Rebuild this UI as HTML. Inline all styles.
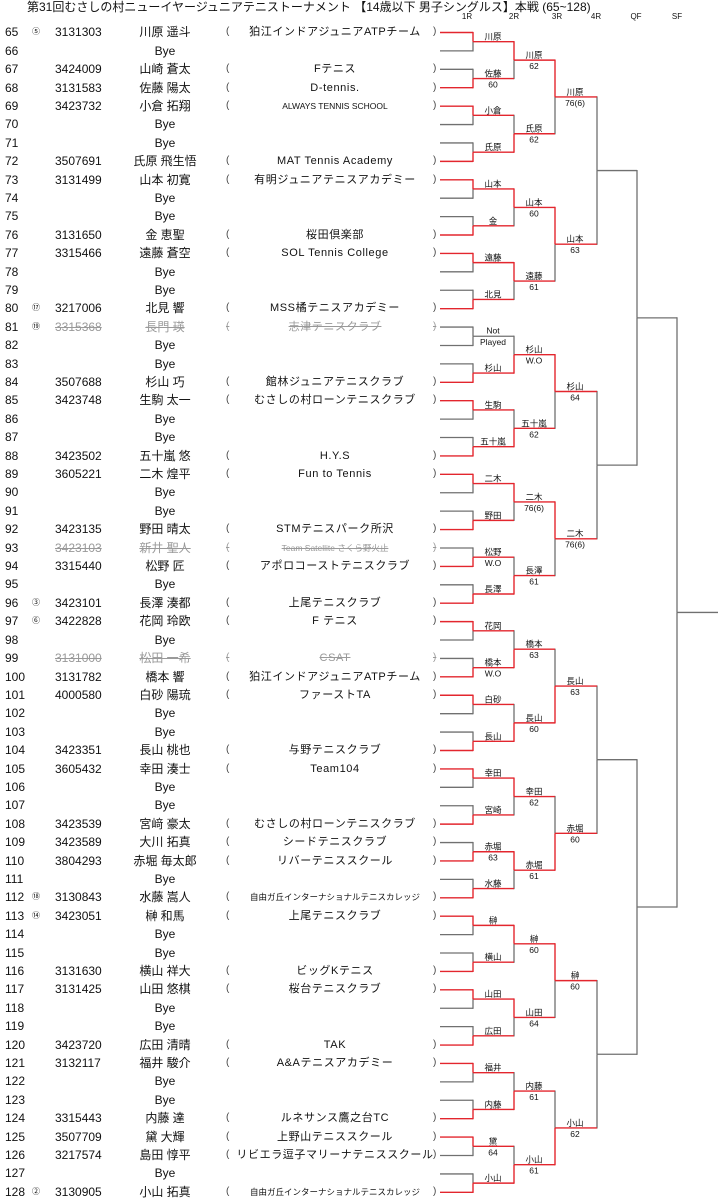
<!DOCTYPE html>
<html><head><meta charset="utf-8"><style>
body{margin:0;width:718px;height:1200px;position:relative;background:#fff;font-family:"Liberation Sans","Noto Sans CJK JP",sans-serif;color:#111;overflow:hidden}
.t{position:absolute;left:27px;top:0;font-size:12px;line-height:15px;white-space:nowrap}
.h{position:absolute;top:12px;font-size:8px;width:30px;text-align:center;margin-left:-15px}
#rows{position:absolute;left:0;top:23.3px;width:440px}
.r{position:relative;height:18.41px;line-height:18.41px;font-size:12px;white-space:nowrap}
.r span{position:absolute;top:0}
.n{left:5px}
.s{left:32px;font-size:8px}
.i{left:55px}
.m{left:115px;width:100px;text-align:center}
.a{left:226px;font-size:10px;color:#444}
.c{left:236px;width:198px;text-align:center;font-size:11px;letter-spacing:0.6px}
.b{left:433px;font-size:10px;color:#444}
.x span{color:#999;text-decoration:line-through}
.x .n{color:#111;text-decoration:none}
.sm{font-size:8.5px!important;letter-spacing:0!important}
svg{position:absolute;left:0;top:0}
svg text{font-family:"Liberation Sans","Noto Sans CJK JP",sans-serif;font-size:8.5px;text-anchor:middle;fill:#111}
</style></head><body>
<div class="t">第31回むさしの村ニューイヤージュニアテニストーナメント 【14歳以下 男子シングルス】本戦 (65~128)</div>
<div class="h" style="left:467px">1R</div><div class="h" style="left:514px">2R</div><div class="h" style="left:557px">3R</div><div class="h" style="left:596px">4R</div><div class="h" style="left:636px">QF</div><div class="h" style="left:677px">SF</div>
<div id="rows">
<div class="r"><span class="n">65</span><span class="s">⑤</span><span class="i">3131303</span><span class="m">川原 遥斗</span><span class="a">(</span><span class="c">狛江インドアジュニアATPチーム</span><span class="b">)</span></div>
<div class="r"><span class="n">66</span><span class="m">Bye</span></div>
<div class="r"><span class="n">67</span><span class="i">3424009</span><span class="m">山崎 蒼太</span><span class="a">(</span><span class="c">Fテニス</span><span class="b">)</span></div>
<div class="r"><span class="n">68</span><span class="i">3131583</span><span class="m">佐藤 陽太</span><span class="a">(</span><span class="c">D-tennis.</span><span class="b">)</span></div>
<div class="r"><span class="n">69</span><span class="i">3423732</span><span class="m">小倉 拓翔</span><span class="a">(</span><span class="c sm">ALWAYS TENNIS SCHOOL</span><span class="b">)</span></div>
<div class="r"><span class="n">70</span><span class="m">Bye</span></div>
<div class="r"><span class="n">71</span><span class="m">Bye</span></div>
<div class="r"><span class="n">72</span><span class="i">3507691</span><span class="m">氏原 飛生悟</span><span class="a">(</span><span class="c">MAT Tennis Academy</span><span class="b">)</span></div>
<div class="r"><span class="n">73</span><span class="i">3131499</span><span class="m">山本 初寛</span><span class="a">(</span><span class="c">有明ジュニアテニスアカデミー</span><span class="b">)</span></div>
<div class="r"><span class="n">74</span><span class="m">Bye</span></div>
<div class="r"><span class="n">75</span><span class="m">Bye</span></div>
<div class="r"><span class="n">76</span><span class="i">3131650</span><span class="m">金 恵聖</span><span class="a">(</span><span class="c">桜田倶楽部</span><span class="b">)</span></div>
<div class="r"><span class="n">77</span><span class="i">3315466</span><span class="m">遠藤 蒼空</span><span class="a">(</span><span class="c">SOL Tennis College</span><span class="b">)</span></div>
<div class="r"><span class="n">78</span><span class="m">Bye</span></div>
<div class="r"><span class="n">79</span><span class="m">Bye</span></div>
<div class="r"><span class="n">80</span><span class="s">⑰</span><span class="i">3217006</span><span class="m">北見 響</span><span class="a">(</span><span class="c">MSS橘テニスアカデミー</span><span class="b">)</span></div>
<div class="r x"><span class="n">81</span><span class="s" style="text-decoration:none;color:#111">⑲</span><span class="i">3315368</span><span class="m">長門 瑛</span><span class="a">(</span><span class="c">志津テニスクラブ</span><span class="b">)</span></div>
<div class="r"><span class="n">82</span><span class="m">Bye</span></div>
<div class="r"><span class="n">83</span><span class="m">Bye</span></div>
<div class="r"><span class="n">84</span><span class="i">3507688</span><span class="m">杉山 巧</span><span class="a">(</span><span class="c">館林ジュニアテニスクラブ</span><span class="b">)</span></div>
<div class="r"><span class="n">85</span><span class="i">3423748</span><span class="m">生駒 太一</span><span class="a">(</span><span class="c">むさしの村ローンテニスクラブ</span><span class="b">)</span></div>
<div class="r"><span class="n">86</span><span class="m">Bye</span></div>
<div class="r"><span class="n">87</span><span class="m">Bye</span></div>
<div class="r"><span class="n">88</span><span class="i">3423502</span><span class="m">五十嵐 悠</span><span class="a">(</span><span class="c">H.Y.S</span><span class="b">)</span></div>
<div class="r"><span class="n">89</span><span class="i">3605221</span><span class="m">二木 煌平</span><span class="a">(</span><span class="c">Fun to Tennis</span><span class="b">)</span></div>
<div class="r"><span class="n">90</span><span class="m">Bye</span></div>
<div class="r"><span class="n">91</span><span class="m">Bye</span></div>
<div class="r"><span class="n">92</span><span class="i">3423135</span><span class="m">野田 晴太</span><span class="a">(</span><span class="c">STMテニスパーク所沢</span><span class="b">)</span></div>
<div class="r x"><span class="n">93</span><span class="i">3423103</span><span class="m">新井 聖人</span><span class="a">(</span><span class="c sm">Team Satellite さくら野火止</span><span class="b">)</span></div>
<div class="r"><span class="n">94</span><span class="i">3315440</span><span class="m">松野 匠</span><span class="a">(</span><span class="c">アポロコーストテニスクラブ</span><span class="b">)</span></div>
<div class="r"><span class="n">95</span><span class="m">Bye</span></div>
<div class="r"><span class="n">96</span><span class="s">③</span><span class="i">3423101</span><span class="m">長澤 湊都</span><span class="a">(</span><span class="c">上尾テニスクラブ</span><span class="b">)</span></div>
<div class="r"><span class="n">97</span><span class="s">⑥</span><span class="i">3422828</span><span class="m">花岡 玲欧</span><span class="a">(</span><span class="c">F テニス</span><span class="b">)</span></div>
<div class="r"><span class="n">98</span><span class="m">Bye</span></div>
<div class="r x"><span class="n">99</span><span class="i">3131000</span><span class="m">松田 一希</span><span class="a">(</span><span class="c">CSAT</span><span class="b">)</span></div>
<div class="r"><span class="n">100</span><span class="i">3131782</span><span class="m">橋本 響</span><span class="a">(</span><span class="c">狛江インドアジュニアATPチーム</span><span class="b">)</span></div>
<div class="r"><span class="n">101</span><span class="i">4000580</span><span class="m">白砂 陽琉</span><span class="a">(</span><span class="c">ファーストTA</span><span class="b">)</span></div>
<div class="r"><span class="n">102</span><span class="m">Bye</span></div>
<div class="r"><span class="n">103</span><span class="m">Bye</span></div>
<div class="r"><span class="n">104</span><span class="i">3423351</span><span class="m">長山 桃也</span><span class="a">(</span><span class="c">与野テニスクラブ</span><span class="b">)</span></div>
<div class="r"><span class="n">105</span><span class="i">3605432</span><span class="m">幸田 湊士</span><span class="a">(</span><span class="c">Team104</span><span class="b">)</span></div>
<div class="r"><span class="n">106</span><span class="m">Bye</span></div>
<div class="r"><span class="n">107</span><span class="m">Bye</span></div>
<div class="r"><span class="n">108</span><span class="i">3423539</span><span class="m">宮﨑 豪太</span><span class="a">(</span><span class="c">むさしの村ローンテニスクラブ</span><span class="b">)</span></div>
<div class="r"><span class="n">109</span><span class="i">3423589</span><span class="m">大川 拓真</span><span class="a">(</span><span class="c">シードテニスクラブ</span><span class="b">)</span></div>
<div class="r"><span class="n">110</span><span class="i">3804293</span><span class="m">赤堀 毎太郎</span><span class="a">(</span><span class="c">リバーテニススクール</span><span class="b">)</span></div>
<div class="r"><span class="n">111</span><span class="m">Bye</span></div>
<div class="r"><span class="n">112</span><span class="s">⑱</span><span class="i">3130843</span><span class="m">水藤 嵩人</span><span class="a">(</span><span class="c sm">自由ガ丘インターナショナルテニスカレッジ</span><span class="b">)</span></div>
<div class="r"><span class="n">113</span><span class="s">⑭</span><span class="i">3423051</span><span class="m">榊 和馬</span><span class="a">(</span><span class="c">上尾テニスクラブ</span><span class="b">)</span></div>
<div class="r"><span class="n">114</span><span class="m">Bye</span></div>
<div class="r"><span class="n">115</span><span class="m">Bye</span></div>
<div class="r"><span class="n">116</span><span class="i">3131630</span><span class="m">横山 祥大</span><span class="a">(</span><span class="c">ビッグKテニス</span><span class="b">)</span></div>
<div class="r"><span class="n">117</span><span class="i">3131425</span><span class="m">山田 悠棋</span><span class="a">(</span><span class="c">桜台テニスクラブ</span><span class="b">)</span></div>
<div class="r"><span class="n">118</span><span class="m">Bye</span></div>
<div class="r"><span class="n">119</span><span class="m">Bye</span></div>
<div class="r"><span class="n">120</span><span class="i">3423720</span><span class="m">広田 清晴</span><span class="a">(</span><span class="c">TAK</span><span class="b">)</span></div>
<div class="r"><span class="n">121</span><span class="i">3132117</span><span class="m">福井 駿介</span><span class="a">(</span><span class="c">A&amp;Aテニスアカデミー</span><span class="b">)</span></div>
<div class="r"><span class="n">122</span><span class="m">Bye</span></div>
<div class="r"><span class="n">123</span><span class="m">Bye</span></div>
<div class="r"><span class="n">124</span><span class="i">3315443</span><span class="m">内藤 達</span><span class="a">(</span><span class="c">ルネサンス鷹之台TC</span><span class="b">)</span></div>
<div class="r"><span class="n">125</span><span class="i">3507709</span><span class="m">黛 大輝</span><span class="a">(</span><span class="c">上野山テニススクール</span><span class="b">)</span></div>
<div class="r"><span class="n">126</span><span class="i">3217574</span><span class="m">島田 惇平</span><span class="a">(</span><span class="c">リビエラ逗子マリーナテニススクール</span><span class="b">)</span></div>
<div class="r"><span class="n">127</span><span class="m">Bye</span></div>
<div class="r"><span class="n">128</span><span class="s">②</span><span class="i">3130905</span><span class="m">小山 拓真</span><span class="a">(</span><span class="c sm">自由ガ丘インターナショナルテニスカレッジ</span><span class="b">)</span></div>
</div>
<svg id="br" width="718" height="1200" viewBox="0 0 718 1200">
<g id="ln"></g>
<g>
<text x="493" y="39.7">川原</text>
<text x="493" y="76.5">佐藤</text><text x="493" y="87.5">60</text>
<text x="493" y="113.3">小倉</text>
<text x="493" y="150.2">氏原</text>
<text x="493" y="187">山本</text>
<text x="493" y="223.8">金</text>
<text x="493" y="260.6">遠藤</text>
<text x="493" y="297.4">北見</text>
<text x="493" y="333.3">Not</text><text x="493" y="344.8">Played</text>
<text x="493" y="371.1">杉山</text>
<text x="493" y="407.9">生駒</text>
<text x="493" y="444.7">五十嵐</text>
<text x="493" y="481.5">二木</text>
<text x="493" y="518.4">野田</text>
<text x="493" y="555.2">松野</text><text x="493" y="566.2">W.O</text>
<text x="493" y="592">長澤</text>
<text x="493" y="628.8">花岡</text>
<text x="493" y="665.6">橋本</text><text x="493" y="676.6">W.O</text>
<text x="493" y="702.5">白砂</text>
<text x="493" y="739.3">長山</text>
<text x="493" y="776.1">幸田</text>
<text x="493" y="812.9">宮崎</text>
<text x="493" y="849.7">赤堀</text><text x="493" y="860.7">63</text>
<text x="493" y="886.6">水藤</text>
<text x="493" y="923.4">榊</text>
<text x="493" y="960.2">横山</text>
<text x="493" y="997">山田</text>
<text x="493" y="1033.8">広田</text>
<text x="493" y="1070.7">福井</text>
<text x="493" y="1107.5">内藤</text>
<text x="493" y="1144.3">黛</text><text x="493" y="1155.3">64</text>
<text x="493" y="1181.1">小山</text>

<text x="534" y="58.1">川原</text><text x="534" y="69.1">62</text>
<text x="534" y="131.7">氏原</text><text x="534" y="142.7">62</text>
<text x="534" y="205.4">山本</text><text x="534" y="216.4">60</text>
<text x="534" y="279">遠藤</text><text x="534" y="290">61</text>
<text x="534" y="352.7">杉山</text><text x="534" y="363.7">W.O</text>
<text x="534" y="426.3">五十嵐</text><text x="534" y="437.3">62</text>
<text x="534" y="499.9">二木</text><text x="534" y="510.9">76(6)</text>
<text x="534" y="573.6">長澤</text><text x="534" y="584.6">61</text>
<text x="534" y="647.2">橋本</text><text x="534" y="658.2">63</text>
<text x="534" y="720.9">長山</text><text x="534" y="731.9">60</text>
<text x="534" y="794.5">幸田</text><text x="534" y="805.5">62</text>
<text x="534" y="868.1">赤堀</text><text x="534" y="879.1">61</text>
<text x="534" y="941.8">榊</text><text x="534" y="952.8">60</text>
<text x="534" y="1015.4">山田</text><text x="534" y="1026.4">64</text>
<text x="534" y="1089.1">内藤</text><text x="534" y="1100.1">61</text>
<text x="534" y="1162.7">小山</text><text x="534" y="1173.7">61</text>

<text x="575" y="94.9">川原</text><text x="575" y="105.9">76(6)</text>
<text x="575" y="242.2">山本</text><text x="575" y="253.2">63</text>
<text x="575" y="389.5">杉山</text><text x="575" y="400.5">64</text>
<text x="575" y="536.7">二木</text><text x="575" y="547.7">76(6)</text>
<text x="575" y="684">長山</text><text x="575" y="695">63</text>
<text x="575" y="831.3">赤堀</text><text x="575" y="842.3">60</text>
<text x="575" y="978.6">榊</text><text x="575" y="989.6">60</text>
<text x="575" y="1125.9">小山</text><text x="575" y="1136.9">62</text>
</g>
</svg>
<script>
(function(){
var R='#e3262e',G='#707070',gray=[],red=[];
function L(x1,y1,x2,y2,c){(c?red:gray).push('<line x1="'+x1+'" y1="'+y1+'" x2="'+x2+'" y2="'+y2+'"/>');}
var N=null;
var S2=[0,1,0,1,0,1,0,1,N,1,0,1,0,1,1,1,0,1,0,1,0,1,1,1,0,1,0,1,0,1,0,1];
var S3=[0,1,0,0,1,1,0,1,1,1,0,0,0,0,1,1];
var S4=[0,0,0,0,1,1,0,1];
var ys=[];for(var i=0;i<64;i++){ys.push(32.5+i*18.41);}
for(i=0;i<64;i++){L(440,ys[i],473,ys[i],S2[i>>1]===(i&1));}
var lv=[[S2,473,514],[S3,514,555],[S4,555,597],[[N,N,N,N],597,637],[[N,N],637,677],[[N],677,718]];
lv.forEach(function(l){var S=l[0],xv=l[1],xo=l[2],nys=[];
for(var k=0;k<S.length;k++){var a=ys[2*k],b=ys[2*k+1],m=(a+b)/2,s=S[k];
L(xv,a-0.6,xv,m,s===0);L(xv,m,xv,b+0.6,s===1);L(xv,m,xo,m,s!==N);nys.push(m);}
ys=nys;});
document.getElementById('ln').innerHTML='<g stroke="'+G+'" stroke-width="1.3">'+gray.join('')+'</g><g stroke="'+R+'" stroke-width="1.4">'+red.join('')+'</g>';
})();
</script>
</body></html>
